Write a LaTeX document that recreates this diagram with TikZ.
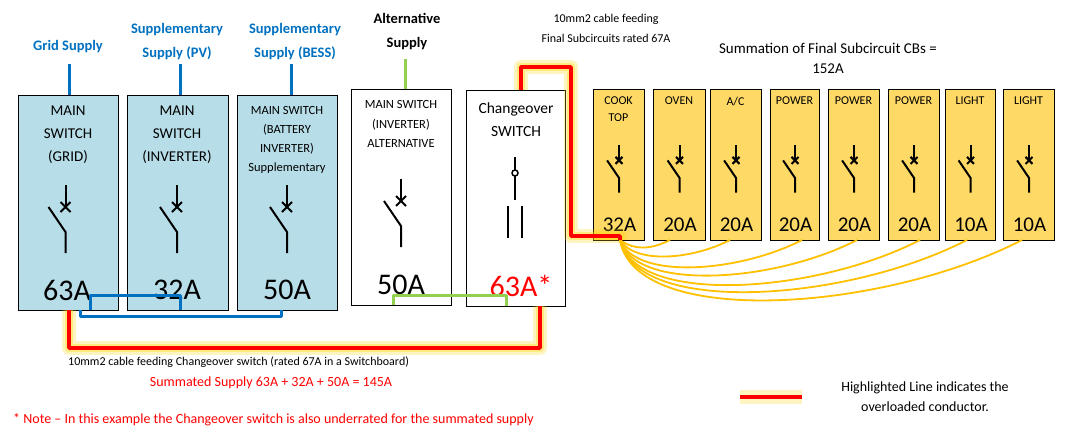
\documentclass[tikz,border=0pt]{standalone}
\usepackage{fontspec}
\setmainfont{Carlito}
\begin{document}
\definecolor{bfill}{HTML}{B7DEE8}
\definecolor{bline}{HTML}{0070C0}
\definecolor{gline}{HTML}{92D050}
\definecolor{yfill}{HTML}{FFD966}
\definecolor{yline}{HTML}{FFC000}
\definecolor{rline}{HTML}{FF0000}
\begin{tikzpicture}[x=1pt,y=-1pt,
  box/.style={draw=black,line width=1pt,anchor=north west,inner sep=0pt},
  lbl/.style={align=center,inner sep=0pt,font=\fontsize{15}{23}\selectfont},
  amp/.style={inner sep=0pt,font=\fontsize{30}{30}\selectfont},
  yamp/.style={inner sep=0pt,font=\fontsize{21}{21}\selectfont},
  ylbl/.style={align=center,inner sep=0pt,font=\fontsize{12}{17}\selectfont},
  sup/.style={align=center,inner sep=0pt,font=\bfseries\fontsize{14.5}{24}\selectfont},
  glow/.style={line width=14pt,yellow!70!orange,opacity=0.25,line join=round},
  glow2/.style={line width=8pt,yellow!80!orange,opacity=0.35,line join=round},
  red/.style={line width=3.5pt,rline,line join=round},
  blu/.style={line width=3pt,bline,line join=round},
  grn/.style={line width=3pt,gline,line join=round},
  yel/.style={line width=1.8pt,yline}]
\useasboundingbox (0,0) rectangle (1065,442);
\newcommand\cbsym[3]{% x, ytop, scale
  \begin{scope}[shift={(#1,#2)},scale=#3,line width=2pt]
  \draw (0,0) -- (0,22);
  \draw (-5,17) -- (5,27) (-5,27) -- (5,17);
  \draw (-17,22) -- (0,47) -- (0,68);
  \end{scope}}
% blue boxes
\node[box,fill=bfill,minimum width=100,minimum height=215] (grid) at (18,95) {};
\node[box,fill=bfill,minimum width=101,minimum height=215] (pv) at (127,95) {};
\node[box,fill=bfill,minimum width=100,minimum height=215] (bess) at (237,95) {};
\node[box,minimum width=100,minimum height=216] (alt) at (351,89) {};
\node[box,minimum width=99,minimum height=216] (co) at (466,90) {};
\node[lbl] (t1) at (68,135) {MAIN\\SWITCH\\(GRID)};
\node[lbl] (t2) at (177,135) {MAIN\\SWITCH\\(INVERTER)};
\node[lbl,font=\fontsize{12.5}{19}\selectfont] (t3) at (287,140) {MAIN SWITCH\\(BATTERY\\INVERTER)\\Supplementary};
\node[lbl,font=\fontsize{12.5}{19.5}\selectfont] (t4) at (401,124) {MAIN SWITCH\\(INVERTER)\\ALTERNATIVE};
\node[lbl,font=\fontsize{15.5}{23}\selectfont] (t5) at (516,120) {Changeover\\SWITCH};
\cbsym{65.5}{185}{1}
\cbsym{177}{185}{1}
\cbsym{287}{185}{1}
\cbsym{401}{179}{1}
\node[amp] (a1) at (67,290) {63A};
\node[amp] (a2) at (177,290) {32A};
\node[amp] (a3) at (287,290) {50A};
\node[amp] (a4) at (401,285) {50A};
\node[amp,text=rline] (a5) at (521,286) {63A*};
% changeover symbol
\draw[line width=2pt] (515,157) -- (515,170) (515,176) -- (515,200);
\draw[line width=1.5pt] (515,173) circle (3);
\draw[line width=2pt] (508,206) -- (508,238) (522,206) -- (522,238);
% supply labels
\node[sup,text=bline] (s1) at (68,47) {Grid Supply};
\node[sup,text=bline] (s2) at (177,42) {Supplementary\\Supply (PV)};
\node[sup,text=bline] (s3) at (295,42) {Supplementary\\Supply (BESS)};
\node[sup] (s4) at (407,32) {Alternative\\Supply};
\draw[blu] (69,64) -- (69,95);
\draw[blu] (180,64) -- (180,95);
\draw[blu] (291,64) -- (291,95);
\draw[grn] (405,59) -- (405,89);
% final subcircuits
\foreach \nm/\xa/\xb/\tx/\am in {c1/593/644/{COOK\\TOP}/32A,c2/653/705/OVEN/20A,c3/710/761/{A/C}/20A,c4/770/819/POWER/20A,c5/828/879/POWER/20A,c6/888/939/POWER/20A,c7/945/995/LIGHT/10A,c8/1003/1054/LIGHT/10A}{
  \pgfmathsetmacro\cx{(\xa+\xb)/2}
  \pgfmathsetmacro\bw{\xb-\xa}
  \node[box,fill=yfill,minimum width=\bw,minimum height=151] (\nm) at (\xa,89) {};
  \node[ylbl,anchor=north] at (\cx,97) {\tx};
  \node[yamp] at (\cx+1,225) {\am};
  \cbsym{\cx+0.5}{145}{0.7}
}
% yellow curves
\foreach \x in {670,730,802,857,920,967,1022}{
  \draw[yel] (620,240) .. controls (635,{240+0.22*(\x-620)}) and ({\x-0.35*(\x-620)},{240+0.18*(\x-620)}) .. (\x,240);
}
% bottom blue/green
\draw[blu] (90,310) -- (90,295) -- (180,295) -- (180,310);
\draw[blu] (80,310) -- (80,316) -- (281,316) -- (281,310);
\draw[grn] (393,305) -- (393,295) -- (506,295) -- (506,306);
% red glows
\draw[glow] (69,310) -- (69,348) -- (540,348) -- (540,306);
\draw[glow2] (69,310) -- (69,348) -- (540,348) -- (540,306);
\draw[glow] (521,90) -- (521,67) -- (571,67) -- (571,236) -- (620,236) -- (620,240);
\draw[glow2] (521,90) -- (521,67) -- (571,67) -- (571,236) -- (620,236) -- (620,240);
\draw[red] (69,310) -- (69,348) -- (540,348) -- (540,306);
\draw[red] (521,90) -- (521,67) -- (571,67) -- (571,236) -- (620,236) -- (620,240);
% texts
\node[inner sep=0pt,font=\fontsize{12}{12}\selectfont,anchor=west] (n1) at (68,362) {10mm2 cable feeding Changeover switch (rated 67A in a Switchboard)};
\node[inner sep=0pt,font=\fontsize{14}{14}\selectfont,text=rline] (n2) at (271,383) {Summated Supply 63A + 32A + 50A = 145A};
\node[inner sep=0pt,font=\fontsize{14}{14}\selectfont,text=rline,anchor=west] (n3) at (13,420) {* Note – In this example the Changeover switch is also underrated for the summated supply};
\node[align=center,inner sep=0pt,font=\fontsize{12}{20}\selectfont] (n4) at (606,28) {10mm2 cable feeding\\Final Subcircuits rated 67A};
\node[align=center,inner sep=0pt,font=\fontsize{15}{20}\selectfont] (n5) at (828,58) {Summation of Final Subcircuit CBs =\\152A};
\node[align=center,inner sep=0pt,font=\fontsize{14}{20}\selectfont] (n6) at (925,397) {Highlighted Line indicates the\\overloaded conductor.};
\coordinate (l1) at (740,397); \coordinate (l2) at (802,397);
\draw[glow] (l1) -- (l2);
\draw[red] (l1) -- (l2);
\end{tikzpicture}
\end{document}
